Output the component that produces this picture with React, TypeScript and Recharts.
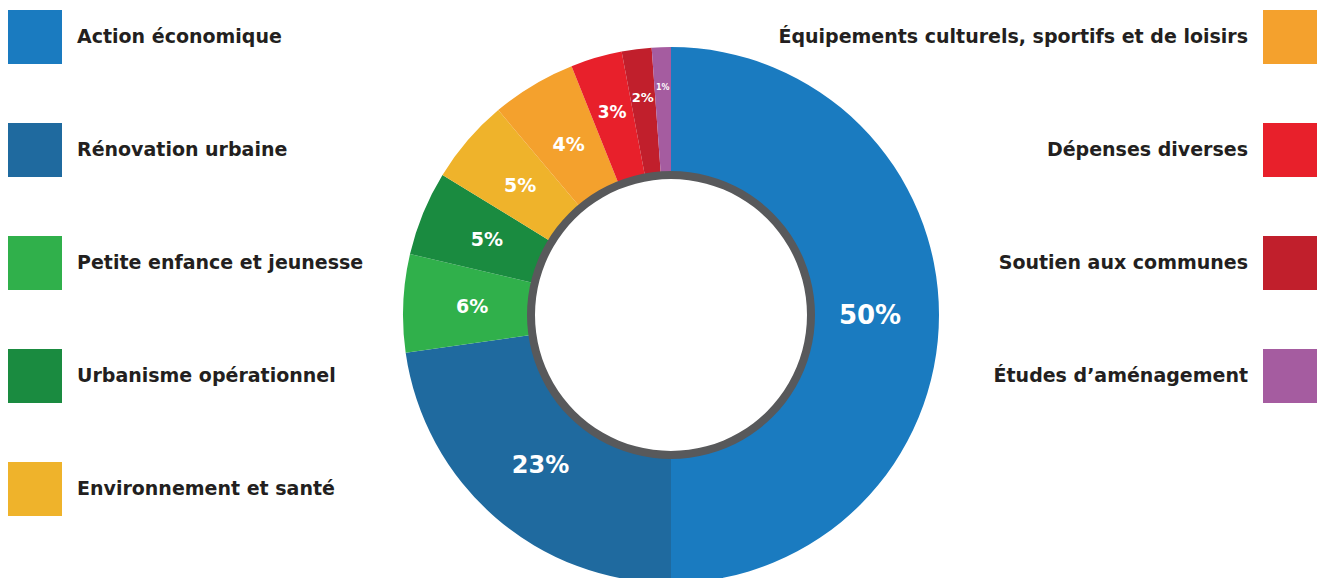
import React from "react";
import { PieChart, Pie, Cell, Legend } from "recharts";

const categories = [
  "Action économique",
  "Rénovation urbaine",
  "Petite enfance et jeunesse",
  "Urbanisme opérationnel",
  "Environnement et santé",
  "Équipements culturels, sportifs et de loisirs",
  "Dépenses diverses",
  "Soutien aux communes",
  "Études d’aménagement",
];
const values = [50, 22.75, 5.9, 5.1, 5.1, 5.1, 3.1, 1.8, 1.15];
const valueLabels = ["50%", "23%", "6%", "5%", "5%", "4%", "3%", "2%", "1%"];
const colors = [
  "#1a7bc0",
  "#1f6a9f",
  "#30b04b",
  "#1a8b40",
  "#efb32b",
  "#f4a12d",
  "#e8202b",
  "#c11f2c",
  "#a55ca0",
];
const legendLeft = [0, 1, 2, 3, 4];
const legendRight = [5, 6, 7, 8];

const data = categories.map((name, i) => ({ name, value: values[i], label: valueLabels[i] }));
const ring = [{ name: "ring", value: 1 }];

const FONT = "'DejaVu Sans', sans-serif";
const RAD = Math.PI / 180;

const labelSize = (i: number) => (i === 0 ? 26 : i === 1 ? 24 : i < 6 ? 19 : i === 6 ? 17 : i === 7 ? 13 : 8);
const labelShift = (i: number) => (i === 6 ? 8 : i === 7 ? 16 : i === 8 ? 25 : -4);

const renderLabel = (p: any) => {
  const { cx, cy, midAngle, innerRadius, outerRadius, index } = p;
  const r = (innerRadius + outerRadius) / 2 + labelShift(index);
  const x = cx + r * Math.cos(-midAngle * RAD);
  const y = cy + r * Math.sin(-midAngle * RAD);
  return (
    <text
      x={x}
      y={y}
      fill="#ffffff"
      textAnchor="middle"
      dominantBaseline="central"
      fontFamily={FONT}
      fontWeight="bold"
      fontSize={labelSize(index)}
    >
      {valueLabels[index]}
    </text>
  );
};

const LegendContent = () => {
  const item = (i: number, row: number, side: "left" | "right") => {
    const top = 10 + row * 113;
    const sq = (
      <div
        key={"s" + i}
        style={{
          position: "absolute",
          top,
          left: side === "left" ? 8 : 1263,
          width: 54,
          height: 54,
          background: colors[i],
        }}
      />
    );
    const txt = (
      <div
        key={"t" + i}
        style={{
          position: "absolute",
          top: top + 27 - 13,
          height: 24,
          lineHeight: "24px",
          whiteSpace: "nowrap",
          fontFamily: FONT,
          fontWeight: "bold",
          fontSize: 19,
          color: "#231f20",
          ...(side === "left" ? { left: 77, textAlign: "left" } : { right: 1323 - 1248, textAlign: "right" }),
        }}
      >
        {categories[i]}
      </div>
    );
    return [sq, txt];
  };
  return (
    <div style={{ position: "absolute", left: 0, top: 0, width: 1323, height: 578 }}>
      {legendLeft.map((i, row) => item(i, row, "left"))}
      {legendRight.map((i, row) => item(i, row, "right"))}
    </div>
  );
};

export default function App() {
  return (
    <div style={{ position: "absolute", left: 0, top: 0, width: 1323, height: 578, background: "#fff", overflow: "hidden" }}>
      <PieChart width={1323} height={578} margin={{ top: 0, right: 0, bottom: 0, left: 0 }}>
        <Pie
          data={data}
          dataKey="value"
          nameKey="name"
          cx={671}
          cy={315}
          startAngle={90}
          endAngle={-270}
          innerRadius={138}
          outerRadius={268}
          stroke="none"
          label={renderLabel}
          labelLine={false}
          isAnimationActive={false}
        >
          {data.map((d, i) => (
            <Cell key={d.name} fill={colors[i]} />
          ))}
        </Pie>
        <Pie
          data={ring}
          dataKey="value"
          cx={671}
          cy={315}
          startAngle={90}
          endAngle={-270}
          innerRadius={136}
          outerRadius={144}
          fill="#58595b"
          stroke="none"
          isAnimationActive={false}
        />
        <Legend
          content={<LegendContent />}
          wrapperStyle={{ position: "absolute", left: 0, top: 0, width: 1323, height: 578 }}
        />
      </PieChart>
    </div>
  );
}
